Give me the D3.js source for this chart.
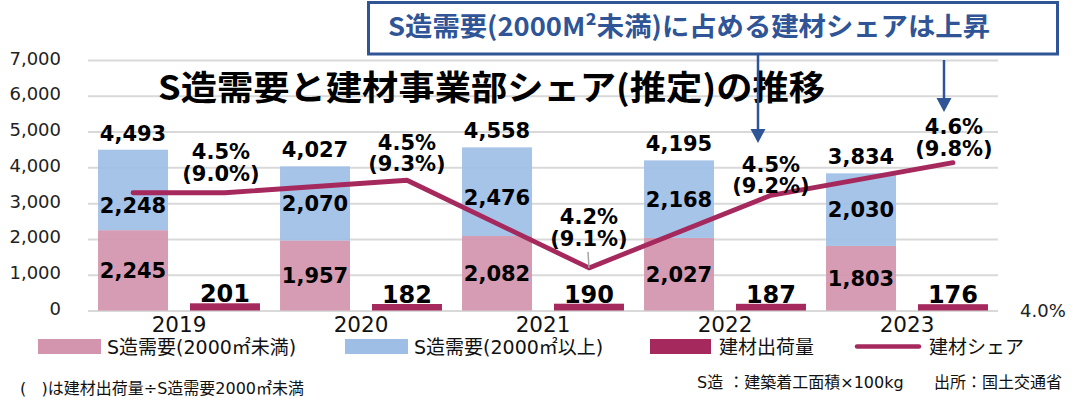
<!DOCTYPE html>
<html><head><meta charset="utf-8">
<script src="https://cdn.jsdelivr.net/npm/d3@7"></script>
<style>
html,body{margin:0;padding:0;background:#fff;}
svg{display:block;}
text{white-space:pre;}
</style></head><body>
<svg id="chart" width="1077" height="404"></svg>
<script>
// ---- data ----
const years = ["2019", "2020", "2021", "2022", "2023"];
const demandSmall = [2245, 1957, 2082, 2027, 1803];   // S造需要 2000㎡未満
const demandLarge = [2248, 2070, 2476, 2168, 2030];   // S造需要 2000㎡以上
const demandTotal = [4493, 4027, 4558, 4195, 3834];   // S造需要 合計
const shipments = [201, 182, 190, 187, 176];          // 建材出荷量
const shareTotal = [4.47, 4.52, 4.17, 4.46, 4.59];    // 建材シェア (%)
const shareSmall = [9.0, 9.3, 9.1, 9.2, 9.8];         // 建材出荷量÷S造需要2000㎡未満 (%)
const yTicks = [0, 1000, 2000, 3000, 4000, 5000, 6000, 7000];
const y2Ticks = [4.0];

// ---- layout ----
const plot = {left: 88, right: 998, top: 60, bottom: 310.5};
const C = {
  pink: "#D394AD", blue: "#9EBEE6", ship: "#A6295D", line: "#A6295D",
  grid: "#D9D9D9", callout: "#2F5597", text: "#000"
};
const numFont = "'DejaVu Sans', Verdana, sans-serif";
const jpFont = "'DejaVu Sans', 'Noto Sans CJK JP', sans-serif";
const jpBold = "'Noto Sans CJK JP', sans-serif";

const svg = d3.select("#chart");

const x = d3.scaleBand().domain(years).range([plot.left, plot.right]).padding(0);
const sub = d3.scaleBand().domain(["demand", "ship"]).range([0, x.bandwidth()])
  .paddingInner(0.239).paddingOuter(0.109);
const y = d3.scaleLinear().domain([0, 7000]).range([plot.bottom, plot.top]);
const y2 = d3.scaleLinear().domain([4.0, 5.0]).range([plot.bottom, plot.top]);

const cx = (i, key) => x(years[i]) + sub(key) + sub.bandwidth() / 2;

// gridlines + left axis labels
const gy = svg.append("g").attr("transform", `translate(${plot.left},0)`)
  .call(d3.axisLeft(y).tickValues(yTicks).tickSize(-(plot.right - plot.left))
    .tickPadding(27).tickFormat(d3.format(",")));
gy.select(".domain").remove();
gy.selectAll("line").attr("stroke", C.grid).attr("stroke-width", 2);
gy.selectAll("text").attr("dy", "4px").attr("fill", "#222")
  .style("font-family", numFont).style("font-size", "18px");

// right axis
const gy2 = svg.append("g").attr("transform", `translate(${plot.right},0)`)
  .call(d3.axisRight(y2).tickValues(y2Ticks).tickSize(0).tickPadding(22)
    .tickFormat(d => d.toFixed(1) + "%"));
gy2.select(".domain").remove();
gy2.selectAll("text").attr("dy", "6px").attr("fill", "#222")
  .style("font-family", numFont).style("font-size", "18px");

// category axis
const gx = svg.append("g").attr("transform", `translate(0,${plot.bottom})`)
  .call(d3.axisBottom(x).tickSize(0).tickPadding(6));
gx.select(".domain").remove();
gx.selectAll("text").attr("fill", "#111")
  .style("font-family", numFont).style("font-size", "21.5px");

// stacked demand bars
const rows = years.map((yr, i) => ({year: yr, small: demandSmall[i], large: demandLarge[i]}));
const stack = d3.stack().keys(["small", "large"])(rows);
const colorOf = {small: C.pink, large: C.blue};
svg.append("g").selectAll("g").data(stack).join("g")
  .attr("fill", d => colorOf[d.key]).attr("fill-opacity", 0.92)
  .selectAll("rect").data(d => d).join("rect")
  .attr("x", d => x(d.data.year) + sub("demand"))
  .attr("width", sub.bandwidth())
  .attr("y", d => y(d[1]))
  .attr("height", d => y(d[0]) - y(d[1]));

// shipment bars
svg.append("g").selectAll("rect").data(shipments).join("rect")
  .attr("fill", C.ship)
  .attr("x", (d, i) => x(years[i]) + sub("ship"))
  .attr("width", sub.bandwidth())
  .attr("y", d => y(d))
  .attr("height", d => y(0) - y(d));

// share line (starts from the first demand bar)
const pts = [[cx(0, "demand"), y2(shareTotal[0])]]
  .concat(shareTotal.map((v, i) => [cx(i, "ship"), y2(v)]));
svg.append("path").attr("d", d3.line()(pts))
  .attr("fill", "none").attr("stroke", C.line).attr("stroke-width", 4.8)
  .attr("stroke-linejoin", "round").attr("stroke-linecap", "round");

// value labels
const fmt = d3.format(",");
const lbl = svg.append("g").attr("font-family", numFont).attr("font-weight", "bold")
  .attr("fill", C.text).attr("text-anchor", "middle");

// totals above the stacks
lbl.selectAll("text.tot").data(demandTotal).join("text").attr("class", "tot")
  .attr("x", (d, i) => cx(i, "demand")).attr("y", d => y(d) - 9)
  .style("font-size", "21px").text(d => fmt(d));

// segment labels
const largeNudge = [15, 0, 6, 0, 0];
stack.forEach(s => {
  lbl.selectAll(null).data(s).join("text")
    .attr("x", (d, i) => cx(i, "demand"))
    .attr("y", (d, i) => (y(d[0]) + y(d[1])) / 2 + 7.7 + (s.key === "large" ? largeNudge[i] : 0))
    .style("font-size", "21px").text(d => fmt(d[1] - d[0]));
});

// shipment labels
lbl.selectAll("text.ship").data(shipments).join("text").attr("class", "ship")
  .attr("x", (d, i) => cx(i, "ship")).attr("y", d => y(d) - 1)
  .style("font-size", "24px").text(d => fmt(d));

// share labels: share on the first line, ratio to <2000㎡ demand in brackets below
const shareDx = [-4, 0, 0, 0, 1];
const shareDy = [-41, -38, -51, -31, -36];
shareTotal.forEach((v, i) => {
  const px = cx(i, "ship") + shareDx[i], py = y2(v) + shareDy[i];
  lbl.append("text").attr("x", px).attr("y", py + 7.5).style("font-size", "21px")
    .text(v.toFixed(1) + "%");
  lbl.append("text").attr("x", px).attr("y", py + 29).style("font-size", "21px")
    .text("(" + shareSmall[i].toFixed(1) + "%)");
});
// leader line for the 2021 label
svg.append("line")
  .attr("x1", cx(2, "ship") - 1).attr("y1", y2(shareTotal[2]) - 16)
  .attr("x2", cx(2, "ship")).attr("y2", y2(shareTotal[2]))
  .attr("stroke", "#A6A6A6").attr("stroke-width", 1.5);

// chart title
svg.append("text").attr("x", 158).attr("y", 100)
  .attr("font-family", jpBold).attr("font-weight", "bold").attr("font-size", 34)
  .attr("textLength", 667).attr("lengthAdjust", "spacingAndGlyphs")
  .attr("fill", "#000").text("S造需要と建材事業部シェア(推定)の推移");

// callout box
svg.append("rect").attr("x", 368.5).attr("y", 2.5).attr("width", 689).attr("height", 51.5)
  .attr("fill", "#fff").attr("stroke", C.callout).attr("stroke-width", 3);
svg.append("text").attr("x", 388).attr("y", 36)
  .attr("font-family", jpBold).attr("font-weight", "bold").attr("font-size", 26)
  .attr("textLength", 602).attr("lengthAdjust", "spacingAndGlyphs")
  .attr("fill", C.callout).text("S造需要(2000M²未満)に占める建材シェアは上昇");

// arrows
function arrow(xa, y0, y1) {
  svg.append("line").attr("x1", xa).attr("x2", xa).attr("y1", y0).attr("y2", y1 - 12)
    .attr("stroke", C.callout).attr("stroke-width", 2.5);
  svg.append("path").attr("d", `M${xa - 7.5},${y1 - 14}L${xa + 7.5},${y1 - 14}L${xa},${y1}Z`)
    .attr("fill", C.callout);
}
arrow(758, 54, 143);
arrow(944, 60, 112);

// legend
const leg = svg.append("g").attr("font-family", jpFont).attr("font-size", 19).attr("fill", "#111");
const items = [
  {type: "rect", color: C.pink, x: 38, w: 63, tx: 107, label: "S造需要(2000㎡未満)"},
  {type: "rect", color: C.blue, x: 345, w: 63, tx: 414, label: "S造需要(2000㎡以上)"},
  {type: "rect", color: C.ship, x: 650, w: 61, tx: 719, label: "建材出荷量"},
  {type: "line", color: C.line, x: 855, w: 66, tx: 929, label: "建材シェア"}
];
items.forEach(it => {
  if (it.type === "rect") {
    leg.append("rect").attr("x", it.x).attr("y", 339).attr("width", it.w).attr("height", 15)
      .attr("fill", it.color);
  } else {
    leg.append("line").attr("x1", it.x + 2).attr("x2", it.x + it.w - 2).attr("y1", 346.5).attr("y2", 346.5)
      .attr("stroke", it.color).attr("stroke-width", 4.5).attr("stroke-linecap", "round");
  }
  leg.append("text").attr("x", it.tx).attr("y", 353.5).text(it.label);
});

// footnotes
const foot = svg.append("g").attr("font-family", jpFont).attr("font-size", 16).attr("fill", "#111");
foot.append("text").attr("x", 20).attr("y", 394).text("(   )は建材出荷量÷S造需要2000㎡未満");
foot.append("text").attr("x", 697).attr("y", 388).text("S造 ：建築着工面積×100kg");
foot.append("text").attr("x", 934).attr("y", 388).text("出所：国土交通省");
</script>
</body></html>
